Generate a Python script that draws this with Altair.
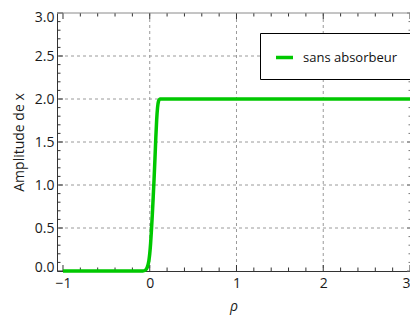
import altair as alt
import pandas as pd

# ---- data ----
rho = [-1.0, -0.5, -0.08, -0.05, -0.03, -0.01, 0.0, 0.01, 0.02, 0.03, 0.04, 0.05,
       0.06, 0.07, 0.08, 0.09, 0.10, 0.12, 0.15, 0.5, 1.0, 2.0, 3.0]
amplitude = [0.0, 0.0, 0.0, 0.01, 0.04, 0.12, 0.2, 0.32, 0.48, 0.66, 0.86, 1.07,
             1.3, 1.55, 1.76, 1.9, 1.97, 2.0, 2.0, 2.0, 2.0, 2.0, 2.0]
series_name = "sans absorbeur"

x_major = [-1, 0, 1, 2, 3]
x_minor = [-0.8, -0.6, -0.4, -0.2, 0.2, 0.4, 0.6, 0.8, 1.2, 1.4, 1.6, 1.8,
           2.2, 2.4, 2.6, 2.8]
y_major = [0.0, 0.5, 1.0, 1.5, 2.0, 2.5, 3.0]
y_minor = [round(0.1 * i, 1) for i in range(31) if i % 5 != 0]
x_grid = [0, 1, 2]
y_grid = [0.5, 1.0, 1.5, 2.0, 2.5]

W, H = 353, 258
GREEN = "#00c800"
FONT = "Open Sans"
TICK = "#333333"

xscale = alt.Scale(domain=[-1.069, 3.0], nice=False, zero=False)
yscale = alt.Scale(domain=[0, 3], nice=False, zero=False)

curve = pd.DataFrame({"rho": rho, "amp": amplitude, "serie": series_name})

gx = alt.Chart(pd.DataFrame({"v": x_grid})).mark_rule(
    color="#9a9a9a", strokeDash=[3, 3], strokeWidth=1
).encode(x=alt.X("v:Q", scale=xscale))
gy = alt.Chart(pd.DataFrame({"v": y_grid})).mark_rule(
    color="#9a9a9a", strokeDash=[3, 3], strokeWidth=1
).encode(y=alt.Y("v:Q", scale=yscale))

line = alt.Chart(curve).mark_line(strokeWidth=3.5, interpolate="monotone").encode(
    x=alt.X("rho:Q", scale=xscale,
            axis=alt.Axis(values=x_major, format="d", title="ρ", grid=False, ticks=False,
                          labelPadding=5, titlePadding=9, titleFontStyle="italic",
                          titleFontWeight="normal")),
    y=alt.Y("amp:Q", scale=yscale,
            axis=alt.Axis(values=y_major, format=".1f", title="Amplitude de x", grid=False,
                          ticks=False, labelPadding=3, titlePadding=8,
                          labelFlush=True, labelFlushOffset=3,
                          titleFontWeight="normal")),
    color=alt.Color("serie:N", scale=alt.Scale(range=[GREEN]),
                    legend=alt.Legend(title=None, orient="none", legendX=203, legendY=20,
                                      symbolType="stroke", symbolStrokeWidth=3.5,
                                      symbolSize=289, padding=14, labelOffset=8,
                                      labelFont=FONT, labelFontSize=13, labelColor="#111",
                                      fillColor="white", strokeColor="black",
                                      cornerRadius=0)),
)

def xticks(vals, y0, y1, color=TICK):
    return alt.Chart(pd.DataFrame({"v": vals})).mark_rule(color=color, strokeWidth=1).encode(
        x=alt.X("v:Q", scale=xscale), y=alt.value(y0), y2=alt.value(y1))

def yticks(vals, x0, x1, color=TICK):
    return alt.Chart(pd.DataFrame({"v": vals})).mark_rule(color=color, strokeWidth=1).encode(
        y=alt.Y("v:Q", scale=yscale), x=alt.value(x0), x2=alt.value(x1))

top_line = alt.Chart(pd.DataFrame({"v": [0]})).mark_rule(color="#8a8a8a", strokeWidth=1).encode(
    x=alt.value(0), x2=alt.value(W), y=alt.value(0))

layers = [
    gx, gy,
    xticks(x_major, H, H - 6), xticks(x_minor, H, H - 3.5),
    xticks(x_major, 0, 6), xticks(x_minor, 0, 3.5),
    yticks(y_major, 0, 6), yticks(y_minor, 0, 3.5),
    yticks(y_major, W, W - 3, "#777"), yticks(y_minor, W, W - 1.5, "#777"),
    top_line,
    line,
]

chart = alt.layer(*layers).properties(
    width=W, height=H,
    autosize=alt.AutoSizeParams(type="none"),
    padding={"left": 49, "top": 5, "right": 0, "bottom": 46},
).configure_view(stroke=None).configure_axis(
    labelFont=FONT, labelFontSize=14, labelColor="#1a1a1a",
    titleFont=FONT, titleFontSize=14, titleColor="#1a1a1a",
    domainColor="#333333", domainWidth=1,
).configure_legend(strokeWidth=1)

chart.save("out.html", embed_options={"renderer": "svg", "actions": False})
